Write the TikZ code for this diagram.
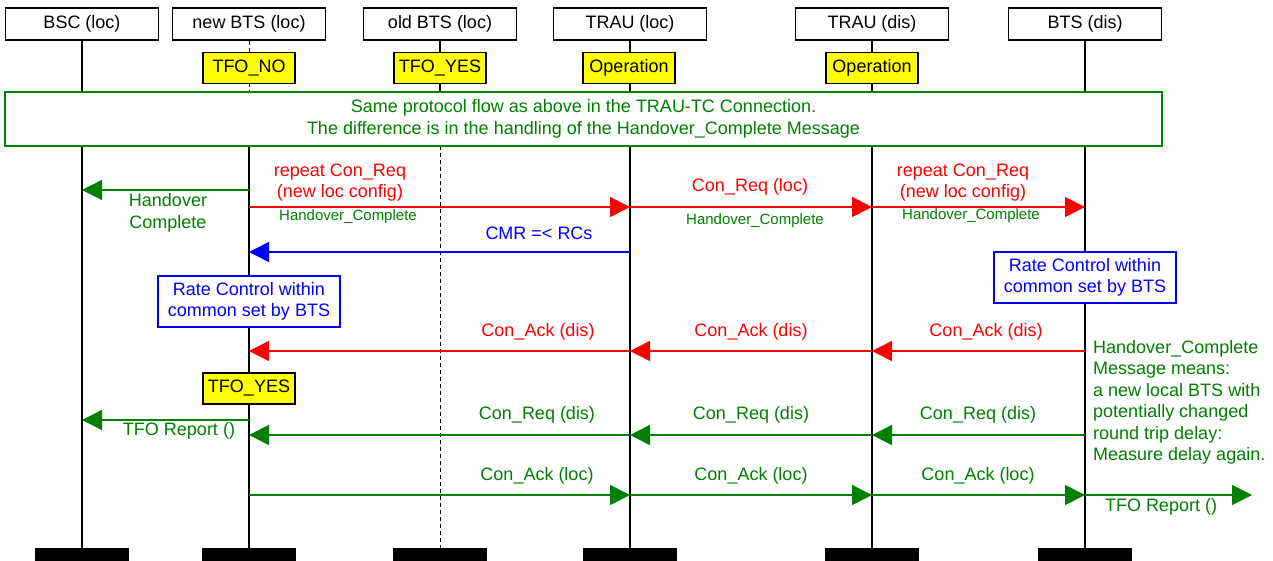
\documentclass[tikz,border=0pt]{standalone}
\usepackage{fontspec}
\setmainfont{Liberation Sans}
\usetikzlibrary{arrows.meta}
\definecolor{dgreen}{RGB}{0,128,0}
\definecolor{lred}{RGB}{255,0,0}
\definecolor{lblue}{RGB}{0,0,255}
\definecolor{lyellow}{RGB}{255,255,0}
\begin{document}
\begin{tikzpicture}[x=1pt,y=-1pt,
  font=\fontsize{18}{21.5}\selectfont,
  hdr/.style={draw, line width=1.5pt, minimum width=153pt, minimum height=32pt, inner sep=0pt},
  ybox/.style={draw, fill=lyellow, line width=1.5pt, minimum width=92pt, minimum height=31pt, inner sep=1pt},
  bar/.style={fill=black, minimum width=94pt, minimum height=13pt, inner sep=0pt},
  life/.style={line width=1.6pt},
  dlife/.style={line width=1pt, dash pattern=on 4pt off 3pt},
  msg/.style={line width=1.6pt, -{Triangle[length=20pt,width=20pt]}},
  thinmsg/.style={line width=1.2pt, -{Triangle[length=20pt,width=20pt]}},
  lbl/.style={align=center, inner sep=0pt},
  small/.style={font=\fontsize{15}{18}\selectfont},
  bbox/.style={draw=lblue, fill=white, line width=1.6pt, text=lblue, align=center, inner sep=4pt, minimum width=182pt, minimum height=51pt}
]
\useasboundingbox (0,0) rectangle (1273,561);
\fill[white] (0,0) rectangle (1273,561);

% headers
\node[hdr] (h1) at (82,24) {BSC (loc)};
\node[hdr] (h2) at (249,24) {new BTS (loc)};
\node[hdr] (h3) at (440,24) {old BTS (loc)};
\node[hdr] (h4) at (630,24) {TRAU (loc)};
\node[hdr] (h5) at (872,24) {TRAU (dis)};
\node[hdr] (h6) at (1085,24) {BTS (dis)};

% bottom bars
\node[bar] (b1) at (82,554.5) {};
\node[bar] (b2) at (249,554.5) {};
\node[bar] (b3) at (440,554.5) {};
\node[bar] (b4) at (630,554.5) {};
\node[bar] (b5) at (872,554.5) {};
\node[bar] (b6) at (1085,554.5) {};

% green box coordinates
\coordinate (gtop) at (0,92);
\coordinate (gbot) at (0,146);

% lifelines
\draw[life] (h1.south) -- (b1.north);
\draw[dlife] (h2.south) -- (h2 |- gtop);
\draw[life] (h2 |- gbot) -- (b2.north);
\draw[life] (h3.south) -- (h3 |- gtop);
\draw[dlife] (h3 |- gbot) -- (b3.north);
\draw[life] (h4.south) -- (b4.north);
\draw[life] (h5.south) -- (b5.north);
\draw[life] (h6.south) -- (b6.north);

% state boxes
\node[ybox] (s1) at (249,68) {TFO\_NO};
\node[ybox] (s2) at (440,68) {TFO\_YES};
\node[ybox] (s3) at (629,68) {Operation};
\node[ybox] (s4) at (872,68) {Operation};

% green box
\node[draw=dgreen, fill=white, line width=2pt, text=dgreen, align=center,
      minimum width=1157pt, minimum height=54pt, inner sep=0pt] (g) at (583.5,119)
  {Same protocol flow as above in the TRAU-TC Connection.\\The difference is in the handling of the Handover\_Complete Message};

% message rows
\coordinate (yA) at (0,190);
\coordinate (yB) at (0,207);
\coordinate (yC) at (0,252);
\coordinate (yD) at (0,351);
\coordinate (yE) at (0,420);
\coordinate (yF) at (0,435);
\coordinate (yG) at (0,495);
\coordinate (tfoEnd) at (1252,495);

% Handover complete to BSC
\draw[thinmsg, dgreen] (h2 |- yA) -- (h1 |- yA);
\node[lbl, text=dgreen] (lA) at (168,213) {Handover\\Complete};

% red repeat Con_Req
\draw[msg, lred] (h2 |- yB) -- (h4 |- yB);
\draw[msg, lred] (h4 |- yB) -- (h5 |- yB);
\draw[msg, lred] (h5 |- yB) -- (h6 |- yB);
\node[lbl, text=lred] (lB1) at (340,182.5) {repeat Con\_Req\\(new loc config)};
\node[lbl, text=lred] (lB2) at (750,187) {Con\_Req (loc)};
\node[lbl, text=lred] (lB3) at (963,182.5) {repeat Con\_Req\\(new loc config)};
\node[lbl, small, text=dgreen] (lB4) at (348,217) {Handover\_Complete};
\node[lbl, small, text=dgreen] (lB5) at (755,221) {Handover\_Complete};
\node[lbl, small, text=dgreen] (lB6) at (971,216) {Handover\_Complete};

% CMR
\draw[msg, lblue] (h4 |- yC) -- (h2 |- yC);
\node[lbl, text=lblue] (lC) at (539,233) {CMR =< RCs};

% rate control boxes
\node[bbox] (rc1) at (249,301.5) {Rate Control within\\common set by BTS};
\node[bbox] (rc2) at (1085,277.5) {Rate Control within\\common set by BTS};

% Con_Ack (dis)
\draw[msg, lred] (h6 |- yD) -- (h5 |- yD);
\draw[msg, lred] (h5 |- yD) -- (h4 |- yD);
\draw[msg, lred] (h4 |- yD) -- (h2 |- yD);
\node[lbl, text=lred] (lD1) at (538,332) {Con\_Ack (dis)};
\node[lbl, text=lred] (lD2) at (751,332) {Con\_Ack (dis)};
\node[lbl, text=lred] (lD3) at (986,332) {Con\_Ack (dis)};

% explanatory text
\node[align=left, text=dgreen, inner sep=0pt, anchor=north west] (note) at (1093,340)
  {Handover\_Complete\\Message means:\\a new local BTS with\\potentially changed\\round trip delay:\\Measure delay again.};

% TFO_YES
\node[ybox] (s5) at (249,388.5) {TFO\_YES};

% TFO report to BSC
\draw[thinmsg, dgreen] (h2 |- yE) -- (h1 |- yE);
\node[lbl, text=dgreen] (lE) at (179,431) {TFO Report ()};

% Con_Req (dis)
\draw[msg, dgreen] (h6 |- yF) -- (h5 |- yF);
\draw[msg, dgreen] (h5 |- yF) -- (h4 |- yF);
\draw[msg, dgreen] (h4 |- yF) -- (h2 |- yF);
\node[lbl, text=dgreen] (lF1) at (537,415) {Con\_Req (dis)};
\node[lbl, text=dgreen] (lF2) at (751,415) {Con\_Req (dis)};
\node[lbl, text=dgreen] (lF3) at (978,415) {Con\_Req (dis)};

% Con_Ack (loc)
\draw[msg, dgreen] (h2 |- yG) -- (h4 |- yG);
\draw[msg, dgreen] (h4 |- yG) -- (h5 |- yG);
\draw[msg, dgreen] (h5 |- yG) -- (h6 |- yG);
\draw[msg, dgreen] (h6 |- yG) -- (tfoEnd);
\node[lbl, text=dgreen] (lG1) at (537,476) {Con\_Ack (loc)};
\node[lbl, text=dgreen] (lG2) at (751,476) {Con\_Ack (loc)};
\node[lbl, text=dgreen] (lG3) at (978,476) {Con\_Ack (loc)};
\node[lbl, text=dgreen] (lG4) at (1161,507) {TFO Report ()};
\end{tikzpicture}
\end{document}
